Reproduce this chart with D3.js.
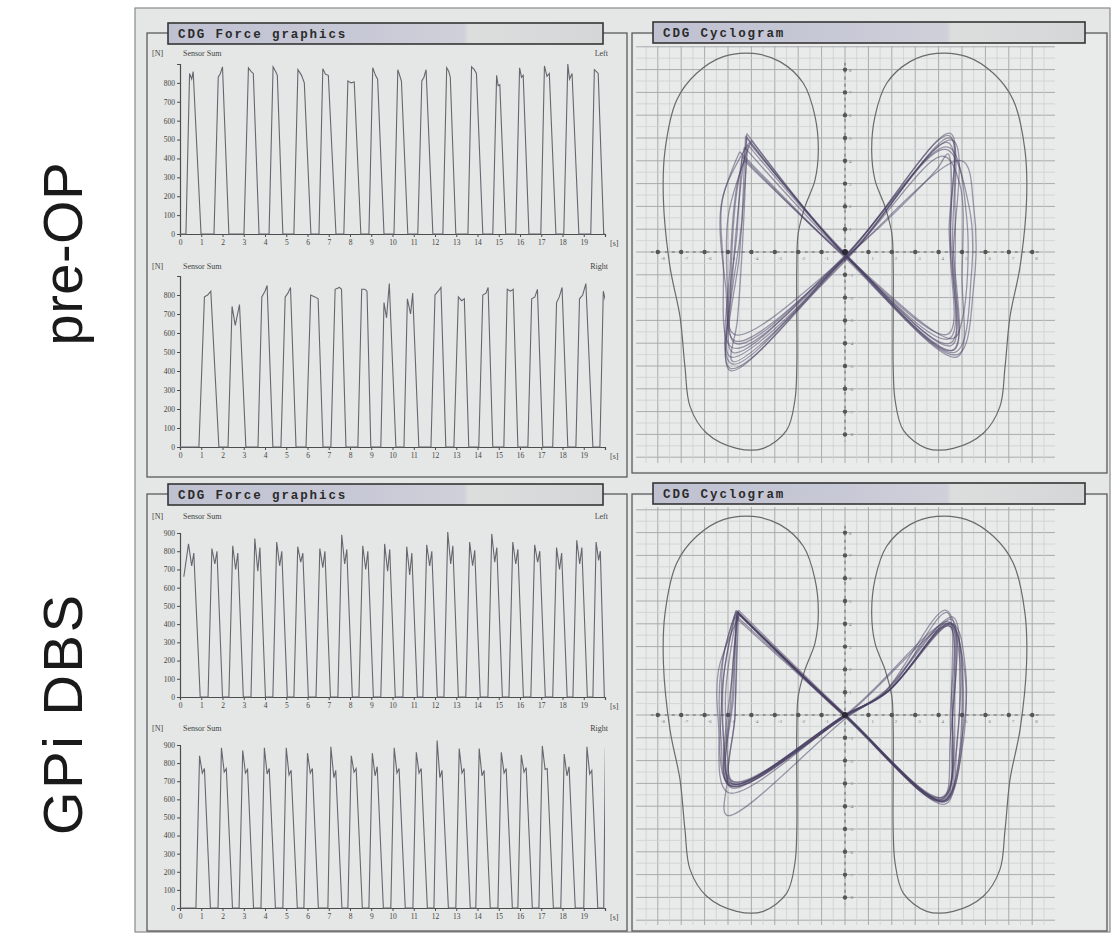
<!DOCTYPE html>
<html><head><meta charset="utf-8">
<script src="https://cdn.jsdelivr.net/npm/d3@7"></script>
<style>body{margin:0;background:#fff;} svg{display:block;}</style>
</head><body><svg id="fig" width="1116" height="933"></svg>
<script>
// ---------- tick labels ----------
const timeTicks = [0,1,2,3,4,5,6,7,8,9,10,11,12,13,14,15,16,17,18,19];
const forceTicksPre = [0,100,200,300,400,500,600,700,800];
const forceTicksDbs = [0,100,200,300,400,500,600,700,800,900];
const cycTicks = [-8,-7,-6,-5,-4,-3,-2,-1,1,2,3,4,5,6,7,8];

// ---------- force traces: each step = [onset, t peak1, peak1, t valley, valley, t peak2, peak2, offset] ----------
const preLeftSteps = [
  [0.28,0.45,850,0.55,820,0.62,860,0.99],
  [1.60,1.80,830,1.90,850,2.00,885,2.30],
  [3.01,3.22,880,3.35,860,3.45,850,3.72],
  [4.19,4.38,885,4.50,860,4.58,840,4.84],
  [5.36,5.55,870,5.72,840,5.85,800,6.16],
  [6.54,6.72,875,6.85,845,6.98,840,7.34],
  [7.71,7.90,810,8.05,800,8.20,805,8.51],
  [8.89,9.07,880,9.20,840,9.30,820,9.60],
  [10.07,10.25,870,10.35,835,10.42,810,10.72],
  [11.19,11.38,810,11.48,830,11.58,870,11.90],
  [12.37,12.55,880,12.65,860,12.72,830,12.98],
  [13.55,13.72,885,13.85,870,13.95,850,14.25],
  [14.72,14.90,840,14.97,785,15.05,790,15.33],
  [15.80,15.98,880,16.07,830,16.15,840,16.42],
  [16.98,17.15,890,17.27,835,17.38,850,17.69],
  [18.06,18.25,900,18.33,820,18.45,850,18.77],
  [19.33,19.50,870,19.60,860,19.68,850,19.94]
];
const preRightSteps = [
  [0.89,1.15,790,1.30,800,1.45,820,1.83],
  [2.26,2.45,740,2.60,640,2.80,750,3.10],
  [3.67,3.85,790,4.00,820,4.10,850,4.37],
  [4.75,4.95,790,5.08,810,5.20,840,5.46],
  [5.93,6.15,800,6.35,790,6.50,780,6.73],
  [7.10,7.30,830,7.50,840,7.60,830,7.81],
  [8.37,8.55,830,8.70,830,8.80,820,8.98],
  [9.45,9.60,760,9.72,680,9.85,860,10.16],
  [10.54,10.70,780,10.85,700,10.95,810,11.24],
  [11.81,12.00,800,12.15,820,12.28,840,12.51],
  [12.89,13.10,790,13.25,770,13.38,780,13.59],
  [14.06,14.25,800,14.40,810,14.50,840,14.72],
  [15.24,15.40,830,15.55,820,15.68,830,15.90],
  [16.37,16.55,780,16.70,790,16.82,830,17.07],
  [17.54,17.72,760,17.85,790,17.98,840,18.25],
  [18.63,18.80,780,18.95,800,19.10,860,19.43],
  [19.76,19.92,820,20.00,780,20.10,800,20.40]
];
const dbsLeftLead = [[0.18,660],[0.40,840],[0.55,720],[0.65,790],[0.95,0]];
const dbsLeftSteps = [
  [1.32,1.50,815,1.64,730,1.74,800,2.00],
  [2.30,2.48,830,2.62,700,2.72,790,2.98],
  [3.34,3.52,870,3.66,690,3.76,820,4.02],
  [4.37,4.55,850,4.69,720,4.79,800,5.05],
  [5.36,5.54,825,5.68,740,5.78,790,6.04],
  [6.40,6.58,815,6.72,710,6.82,800,7.08],
  [7.43,7.61,890,7.75,730,7.85,810,8.11],
  [8.42,8.60,830,8.74,700,8.84,800,9.10],
  [9.45,9.63,840,9.77,690,9.87,810,10.13],
  [10.49,10.67,825,10.81,670,10.91,790,11.17],
  [11.43,11.61,835,11.75,720,11.85,800,12.11],
  [12.42,12.60,905,12.74,730,12.84,830,13.10],
  [13.45,13.63,850,13.77,720,13.87,805,14.13],
  [14.49,14.67,895,14.81,740,14.91,820,15.17],
  [15.48,15.66,850,15.80,730,15.90,810,16.16],
  [16.51,16.69,835,16.83,740,16.93,800,17.19],
  [17.54,17.72,820,17.86,700,17.96,790,18.22],
  [18.49,18.67,860,18.81,730,18.91,820,19.17],
  [19.43,19.58,850,19.70,750,19.78,800,19.97]
];
const dbsRightSteps = [
  [0.75,0.92,840,1.05,745,1.15,770,1.43],
  [1.79,1.95,885,2.08,750,2.18,770,2.47],
  [2.78,2.95,870,3.08,745,3.18,765,3.46],
  [3.81,3.97,885,4.10,740,4.20,770,4.49],
  [4.84,5.00,885,5.13,735,5.23,760,5.52],
  [5.83,6.00,855,6.13,745,6.23,770,6.51],
  [6.96,7.10,890,7.24,720,7.33,760,7.62],
  [7.90,8.06,840,8.19,750,8.29,770,8.58],
  [8.89,9.05,855,9.18,730,9.28,780,9.57],
  [9.92,10.08,885,10.21,745,10.31,770,10.60],
  [10.96,11.12,860,11.25,745,11.35,770,11.64],
  [11.95,12.10,925,12.23,720,12.33,760,12.63],
  [12.98,13.14,880,13.27,745,13.37,770,13.66],
  [13.92,14.08,880,14.21,730,14.31,760,14.60],
  [14.96,15.12,860,15.25,745,15.35,770,15.64],
  [15.90,16.06,845,16.19,750,16.29,775,16.58],
  [16.89,17.05,895,17.18,765,17.28,770,17.57],
  [17.92,18.08,850,18.21,730,18.31,780,18.60],
  [19.00,19.15,890,19.28,740,19.38,760,19.66]
];
const dbsRightTail = [[19.94,0],[20.02,880]];

// ---------- cyclogram: foot outline (left foot, in sensor units) ----------
const footOutline = [
  [-3.92,8.71],[-2.78,8.35],[-1.78,7.40],[-1.28,5.94],[-1.14,4.47],[-1.28,3.16],
  [-1.71,1.99],[-2.0,0.82],[-2.06,-0.64],[-2.06,-2.84],[-2.06,-5.03],[-2.14,-6.49],
  [-2.49,-7.81],[-3.49,-8.61],[-4.63,-8.61],[-5.91,-7.95],[-6.62,-6.78],[-6.84,-5.03],
  [-7.05,-2.84],[-7.48,-0.64],[-7.76,2.28],[-7.69,4.47],[-7.19,6.67],[-6.34,7.84],[-5.2,8.57]
];

// ---------- cyclogram loops (centre-of-pressure butterfly, one array per gait cycle) ----------
const preLoops = [
  [[-4.2,5.0],[-4.5,2.5],[-4.8,-1],[-4.9,-5.1],[0.05,-0.2],[4.45,5.1],[4.5,1],[4.5,-4.0],[0.0,-0.1],[-4.2,5.0]],
  [[-4.3,4.6],[-4.7,2],[-4.9,-2],[-4.9,-4.6],[0.1,-0.25],[4.4,4.8],[4.6,0.5],[4.6,-4.3],[0.05,-0.2],[-4.3,4.6]],
  [[-4.1,4.8],[-5.2,2.5],[-5.2,-0.5],[-4.8,-4.2],[0,-0.3],[4.3,4.5],[5.3,2],[5.4,-1],[4.7,-4.4],[0.1,-0.15],[-4.1,4.8]],
  [[-4.4,4.2],[-4.6,1],[-4.75,-3.6],[0.05,-0.2],[3.9,3.6],[4.4,4.3],[4.5,0],[4.4,-3.6],[0,-0.2],[-4.4,4.2]],
  [[-4.0,4.9],[-4.6,3],[-4.9,-0.5],[-4.85,-4.9],[0.1,-0.2],[5.0,4.0],[5.5,2],[5.5,-1.5],[4.8,-4.5],[0.05,-0.2],[-4.0,4.9]],
  [[-4.25,5.1],[-4.4,1.5],[-4.7,-4.0],[0,-0.2],[4.5,5.2],[4.45,1],[4.45,-3.8],[0.05,-0.15],[-4.25,5.1]],
  [[-4.5,4.4],[-5.3,2],[-5.1,-1.5],[-4.7,-3.9],[0.1,-0.2],[4.2,4.2],[4.9,3],[5.0,-1],[4.8,-4.6],[0,-0.25],[-4.5,4.4]],
  [[-4.15,4.7],[-4.5,0],[-4.8,-4.4],[0.05,-0.1],[4.6,4.9],[4.6,-0.5],[4.55,-4.1],[0.1,-0.2],[-4.15,4.7]],
  [[-4.3,4.0],[-5.0,1.5],[-5.0,-2.5],[-4.9,-5.2],[0,-0.2],[4.4,4.6],[5.2,1.5],[5.0,-3],[4.6,-3.8],[0.05,-0.2],[-4.3,4.0]],
  [[-4.2,5.2],[-4.3,2],[-4.6,-3.0],[-4.8,-4.8],[0.1,-0.3],[4.5,5.0],[4.7,2],[4.7,-1],[4.65,-4.3],[0,-0.15],[-4.2,5.2]]
];
const dbsLoops = [
  [[-4.6,4.5],[-4.8,1],[-4.85,-3.0],[0,0],[1.8,1.0],[4.5,4.0],[4.6,0.5],[4.2,-3.7],[0,-0.05],[-4.6,4.5]],
  [[-4.65,4.6],[-5.3,2],[-5.3,-1],[-4.9,-3.1],[0.05,-0.05],[1.7,1.05],[4.4,4.1],[5.1,2],[5.0,-1.5],[4.25,-3.8],[0,0],[-4.65,4.6]],
  [[-4.55,4.45],[-4.7,0],[-4.8,-2.9],[0,-0.1],[2.0,1.2],[4.55,4.2],[4.7,1],[4.15,-3.6],[-0.05,-0.05],[-4.55,4.45]],
  [[-4.7,4.3],[-5.2,1.5],[-5.1,-2],[-4.85,-3.2],[0,0],[1.6,0.9],[4.3,4.6],[4.9,2.5],[4.8,-1],[4.3,-3.9],[0.05,-0.1],[-4.7,4.3]],
  [[-4.6,4.55],[-4.9,0.5],[-4.95,-3.1],[0.05,0],[4.5,3.9],[4.6,0],[4.2,-3.6],[0,-0.05],[-4.6,4.55]],
  [[-4.5,4.4],[-5.4,2],[-5.4,-0.5],[-5.0,-3.4],[0,-0.05],[1.9,1.1],[4.6,4.0],[5.15,2],[5.0,-1],[4.2,-3.8],[0.05,-0.05],[-4.5,4.4]],
  [[-4.65,4.5],[-4.75,1],[-4.9,-3.0],[0,0],[1.8,1.0],[4.45,3.9],[4.5,0],[4.25,-3.75],[0,0],[-4.65,4.5]],
  [[-4.6,4.5],[-5.1,1],[-5.0,-2.5],[-5.05,-4.4],[0.1,-0.1],[1.7,1.0],[4.6,4.3],[4.9,1.5],[4.7,-2],[4.3,-3.8],[0,0],[-4.6,4.5]],
  [[-4.55,4.6],[-4.8,2],[-4.85,-2.9],[0,0],[4.4,4.0],[4.7,2],[4.5,-1],[4.15,-3.7],[0.05,0],[-4.55,4.6]],
  [[-4.7,4.4],[-5.25,1],[-4.9,-3.1],[0,-0.05],[1.85,1.05],[4.5,4.05],[5.05,1.5],[4.25,-3.75],[0,0],[-4.7,4.4]],
  [[-4.6,4.5],[-4.7,0],[-4.8,-3.0],[0.05,0],[1.75,0.95],[4.35,4.5],[4.55,1],[4.2,-3.65],[0,0],[-4.6,4.5]],
  [[-4.65,4.55],[-5.2,2.5],[-5.2,-1],[-4.9,-3.05],[0,0],[1.8,1.0],[4.5,4.0],[5.0,0],[4.2,-3.75],[0,-0.05],[-4.65,4.55]]
];

// ---------- drawing ----------
const svg = d3.select("#fig");
const defs = svg.append("defs");
const grad = defs.append("linearGradient").attr("id","barGrad").attr("x1","0").attr("x2","1").attr("y1","0").attr("y2","0");
[["0%","#bfc1d1"],["45%","#c8c9d6"],["68%","#cfd0d9"],["69%","#dcdddd"],["100%","#d5d6d7"]]
  .forEach(([o,c]) => grad.append("stop").attr("offset",o).attr("stop-color",c));

// side row labels
[["pre-OP",254,183],["GPi DBS",715,240]].forEach(([t,cy,len]) => {
  svg.append("text").attr("transform",`translate(82,${cy}) rotate(-90)`)
    .attr("text-anchor","middle").attr("font-family","Liberation Sans, Arial, sans-serif")
    .attr("font-size",56).attr("fill","#1a1a1a")
    .attr("textLength",len).attr("lengthAdjust","spacing").text(t);
});

// outer frame
svg.append("rect").attr("x",135).attr("y",8).attr("width",975).attr("height",924)
  .attr("fill","#e5e7e6").attr("stroke","#8a8a8a").attr("stroke-width",1.2);

// group boxes
const boxes = [[147,33,627,477],[632,33,1107,473],[147,494,627,931],[632,494,1107,931]];
boxes.forEach(([x0,y0,x1,y1]) => {
  svg.append("rect").attr("x",x0).attr("y",y0).attr("width",x1-x0).attr("height",y1-y0)
    .attr("fill","none").attr("stroke","#5a5a5a").attr("stroke-width",1.3);
});
svg.append("rect").attr("x",634).attr("y",35).attr("width",471).attr("height",436).attr("fill","#e9ebeb");
svg.append("rect").attr("x",634).attr("y",496).attr("width",471).attr("height",433).attr("fill","#e9ebeb");

function titleBar(x0,y0,x1,y1,label){
  svg.append("rect").attr("x",x0).attr("y",y0).attr("width",x1-x0).attr("height",y1-y0)
    .attr("fill","url(#barGrad)").attr("stroke","#353535").attr("stroke-width",1.6);
  svg.append("text").attr("x",x0+10).attr("y",(y0+y1)/2+4.5)
    .attr("font-family","Liberation Mono, Courier New, monospace").attr("font-weight","bold")
    .attr("font-size",12.5).attr("letter-spacing",1.9).attr("fill","#2b2b2b").text(label);
}

// ---------- force charts ----------
const x = d3.scaleLinear().domain([0,20]).range([180,605]);
const fontSmall = "Liberation Serif, Times New Roman, serif";

function buildTrace(lead, steps, tail){
  const pts = lead.slice();
  steps.forEach(s => {
    pts.push([s[0],0],[s[1],s[2]],[s[3],s[4]],[s[5],s[6]],[s[7],0]);
  });
  return pts.concat(tail);
}

function forceChart(id, y0px, yTopPx, yTicks, labelY, side, lead, steps, tail){
  const y = d3.scaleLinear().domain([0,900]).range([y0px,yTopPx]);
  const g = svg.append("g");
  defs.append("clipPath").attr("id",id).append("rect")
    .attr("x",x(0)).attr("y",yTopPx-12).attr("width",x(20)-x(0)).attr("height",y0px-yTopPx+13);

  const ya = g.append("g").attr("transform",`translate(${x(0)},0)`)
    .call(d3.axisLeft(y).tickValues(yTicks).tickSize(3).tickPadding(2).tickFormat(d3.format("d")));
  const xa = g.append("g").attr("transform",`translate(0,${y0px})`)
    .call(d3.axisBottom(x).tickValues(timeTicks).tickSize(3).tickPadding(3).tickFormat(d3.format("d")));
  [ya,xa].forEach(a => {
    a.select(".domain").attr("stroke","#4d4d4d").attr("stroke-width",1.2);
    a.selectAll(".tick line").attr("stroke","#4d4d4d");
    a.selectAll("text").attr("font-family",fontSmall).attr("font-size",7.5).attr("fill","#444");
  });

  g.append("text").attr("x",152).attr("y",labelY).attr("font-family",fontSmall).attr("font-size",8).attr("fill","#444").text("[N]");
  g.append("text").attr("x",183).attr("y",labelY).attr("font-family",fontSmall).attr("font-size",8).attr("fill","#444").text("Sensor Sum");
  g.append("text").attr("x",608).attr("y",labelY).attr("text-anchor","end").attr("font-family",fontSmall).attr("font-size",8).attr("fill","#444").text(side);
  g.append("text").attr("x",610).attr("y",y0px+12).attr("font-family",fontSmall).attr("font-size",8).attr("fill","#444").text("[s]");

  const line = d3.line().x(d => x(d[0])).y(d => y(d[1]));
  g.append("path").datum(buildTrace(lead, steps, tail))
    .attr("clip-path",`url(#${id})`)
    .attr("d",line).attr("fill","none").attr("stroke","#66666e").attr("stroke-width",1.1);
}

forceChart("cpL", 234, 64, forceTicksPre, 56, "Left", [[0,0]], preLeftSteps, [[20,0]]);
forceChart("cpR", 447, 276, forceTicksPre, 269, "Right", [[0,0]], preRightSteps, []);
forceChart("cdL", 697, 533, forceTicksDbs, 519, "Left", dbsLeftLead, dbsLeftSteps, [[20,0]]);
forceChart("cdR", 908, 745, forceTicksDbs, 731, "Right", [[0,0]], dbsRightSteps, dbsRightTail);

titleBar(168,23,603,44,"CDG Force graphics");
titleBar(168,484,603,505,"CDG Force graphics");

// ---------- cyclograms ----------
function cyclogram(cxPx, cyPx, gridTop, gridBottom, loops){
  const cx = d3.scaleLinear().domain([-9,9]).range([cxPx-9*23.4, cxPx+9*23.4]);
  const cy = d3.scaleLinear().domain([-9,9]).range([cyPx+9*22.8, cyPx-9*22.8]);
  const g = svg.append("g");
  const xl = 636, xr = 1055;
  // grid
  for (let v = -9; v <= 9.001; v += 0.5) {
    const major = Math.abs(v - Math.round(v)) < 1e-6;
    const px = cx(v);
    if (px >= xl && px <= xr)
      g.append("line").attr("x1",px).attr("x2",px).attr("y1",gridTop).attr("y2",gridBottom)
        .attr("stroke", major ? "#a9abab" : "#cdd0cf").attr("stroke-width", major ? 1 : 0.8);
    const py = cy(v);
    if (py >= gridTop && py <= gridBottom)
      g.append("line").attr("x1",xl).attr("x2",xr).attr("y1",py).attr("y2",py)
        .attr("stroke", major ? "#a9abab" : "#cdd0cf").attr("stroke-width", major ? 1 : 0.8);
  }
  // feet
  const foot = d3.line().x(d => cx(d[0])).y(d => cy(d[1])).curve(d3.curveCatmullRomClosed.alpha(0.5));
  g.append("path").attr("d", foot(footOutline)).attr("fill","none").attr("stroke","#6a6a6a").attr("stroke-width",1.2);
  g.append("path").attr("d", foot(footOutline.map(p => [-p[0], p[1]]))).attr("fill","none").attr("stroke","#6a6a6a").attr("stroke-width",1.2);
  // axes: dashed lines with dot markers
  g.append("line").attr("x1",cx(-8.3)).attr("x2",cx(8.3)).attr("y1",cy(0)).attr("y2",cy(0))
    .attr("stroke","#666").attr("stroke-dasharray","3,4").attr("stroke-width",1);
  g.append("line").attr("x1",cx(0)).attr("x2",cx(0)).attr("y1",cy(8.3)).attr("y2",cy(-8.3))
    .attr("stroke","#666").attr("stroke-dasharray","3,4").attr("stroke-width",1);
  cycTicks.forEach(v => {
    g.append("circle").attr("cx",cx(v)).attr("cy",cy(0)).attr("r",2.2).attr("fill","#555");
    g.append("circle").attr("cx",cx(0)).attr("cy",cy(v)).attr("r",2.2).attr("fill","#555");
    g.append("text").attr("x",cx(v)+3).attr("y",cy(0)+8).attr("font-size",5).attr("font-family",fontSmall).attr("fill","#777").text(v);
    g.append("text").attr("x",cx(0)+4).attr("y",cy(v)+2).attr("font-size",5).attr("font-family",fontSmall).attr("fill","#777").text(v);
  });
  // loops
  const loopLine = d3.line().x(d => cx(d[0])).y(d => cy(d[1])).curve(d3.curveCatmullRom.alpha(0.5));
  g.selectAll("path.loop").data(loops).join("path").attr("class","loop")
    .attr("d", loopLine).attr("fill","none").attr("stroke","#4a4064")
    .attr("stroke-opacity",0.5).attr("stroke-width",1.3).attr("stroke-linejoin","round");
  g.append("circle").attr("cx",cx(0)).attr("cy",cy(0)).attr("r",3).attr("fill","#2a2a33");
}

cyclogram(845, 252, 46, 463, preLoops);
cyclogram(845, 715, 507, 925, dbsLoops);

titleBar(653,22,1085,43,"CDG Cyclogram");
titleBar(653,483,1085,504,"CDG Cyclogram");
</script></body></html>
